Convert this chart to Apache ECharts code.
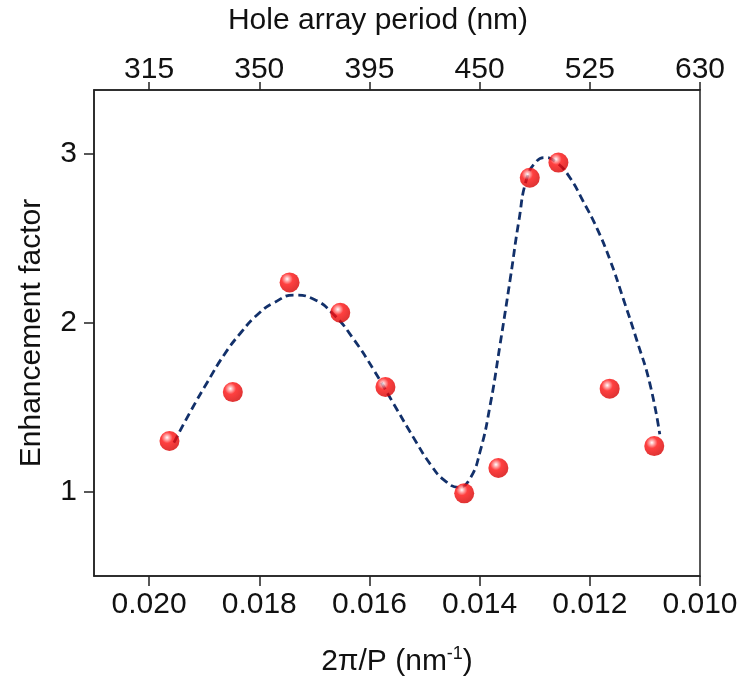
<!DOCTYPE html>
<html>
<head>
<meta charset="utf-8">
<script src="https://cdn.jsdelivr.net/npm/echarts@6/dist/echarts.min.js"></script>
<style>html,body{margin:0;padding:0;background:#fff;}#c{width:743px;height:682px;}</style>
</head>
<body>
<div id="c"></div>
<script>
// measured points: x = 2π/P (nm^-1), y = enhancement factor
var pointX = [0.01963, 0.01848, 0.01745, 0.01653, 0.01571, 0.01428, 0.01366, 0.01309, 0.01257, 0.01164, 0.01083];
var pointY = [1.30, 1.59, 2.24, 2.06, 1.62, 0.99, 1.14, 2.86, 2.95, 1.61, 1.27];
// fitted guide curve
var curveX = [0.01955, 0.01924, 0.01894, 0.01864, 0.01834, 0.01803, 0.01773, 0.01737, 0.01701, 0.01665, 0.01628, 0.01592, 0.01556, 0.01520, 0.01489, 0.01465, 0.01438, 0.01417, 0.01399, 0.01381, 0.01363, 0.01344, 0.01329, 0.01314, 0.01296, 0.01281, 0.01260, 0.01236, 0.01212, 0.01187, 0.01163, 0.01139, 0.01115, 0.01091, 0.01073];
var curveY = [1.29, 1.48, 1.65, 1.81, 1.94, 2.05, 2.12, 2.165, 2.14, 2.05, 1.90, 1.72, 1.52, 1.32, 1.16, 1.07, 1.025, 1.08, 1.24, 1.51, 1.87, 2.27, 2.60, 2.86, 2.96, 2.98, 2.95, 2.86, 2.72, 2.56, 2.37, 2.14, 1.90, 1.64, 1.34];
// axis ticks
var xTicks = [0.020, 0.018, 0.016, 0.014, 0.012, 0.010];
var topLabels = ['315', '350', '395', '450', '525', '630'];
var yTicks = [1, 2, 3];

var pts = pointX.map(function (x, i) { return [x, pointY[i]]; });
var crv = curveX.map(function (x, i) { return [x, curveY[i]]; });

var font = '"Liberation Sans", Arial, sans-serif';
var FS = 30;
var axisCol = '#222';
var chart = echarts.init(document.getElementById('c'), null, {renderer: 'canvas'});

function xAxisBase(pos, tickLen) {
  return {
    type: 'value', position: pos, min: 0.010, max: 0.021, inverse: true,
    axisLine: {show: true, lineStyle: {color: axisCol, width: 1.5}},
    axisTick: {show: true, inside: false, length: tickLen, customValues: xTicks, lineStyle: {color: axisCol, width: 1.5}},
    splitLine: {show: false},
    nameLocation: 'middle',
    nameTextStyle: {fontFamily: font, fontSize: FS, color: '#111'}
  };
}
var xb = xAxisBase('bottom', 10);
xb.name = '{a|2π/P (nm}{s|-1}{a|)}';
xb.nameGap = 69;
xb.nameTextStyle.rich = {
  a: {fontFamily: font, fontSize: FS, color: '#111'},
  s: {fontFamily: font, fontSize: 18, color: '#111', padding: [0, 0, 16, 0]}
};
xb.axisLabel = {customValues: xTicks, margin: 14, fontFamily: font, fontSize: FS, color: '#111',
  formatter: function (v) { return v.toFixed(3); }};
var xt = xAxisBase('top', 8);
xt.name = 'Hole array period (nm)';
xt.nameGap = 54;
xt.nameTextStyle.padding = [0, 38, 0, 0];
xt.axisLabel = {customValues: xTicks, margin: 5, fontFamily: font, fontSize: FS, color: '#111',
  formatter: function (v) {
    for (var i = 0; i < xTicks.length; i++) if (Math.abs(v - xTicks[i]) < 1e-7) return topLabels[i];
    return '';
  }};

chart.setOption({
  backgroundColor: '#fff',
  animation: false,
  grid: {left: 94, right: 43, top: 90, bottom: 105, show: true, borderColor: axisCol, borderWidth: 1.5, backgroundColor: 'transparent'},
  xAxis: [xb, xt],
  yAxis: {
    type: 'value', min: 0.5, max: 3.38,
    name: 'Enhancement factor', nameLocation: 'middle', nameGap: 47,
    nameTextStyle: {fontFamily: font, fontSize: FS, color: '#111'},
    axisLine: {show: true, lineStyle: {color: axisCol, width: 1.5}},
    axisTick: {show: true, length: 10, customValues: yTicks, lineStyle: {color: axisCol, width: 1.5}},
    axisLabel: {customValues: yTicks, margin: 17, fontFamily: font, fontSize: FS, color: '#111'},
    splitLine: {show: false}
  },
  series: [
    {
      type: 'line', data: crv, smooth: true, showSymbol: false, symbol: 'none', z: 2,
      lineStyle: {color: '#12306a', width: 2.8, type: [8, 4.5]}
    },
    {
      type: 'scatter', data: pts, symbol: 'circle', symbolSize: 20, z: 3,
      itemStyle: {
        color: new echarts.graphic.RadialGradient(0.38, 0.33, 0.7, [
          {offset: 0, color: '#ffffff'},
          {offset: 0.16, color: '#ff9a9a'},
          {offset: 0.4, color: '#ff1010'},
          {offset: 1, color: '#d40000'}
        ])
      }
    }
  ]
});
</script>
</body>
</html>
